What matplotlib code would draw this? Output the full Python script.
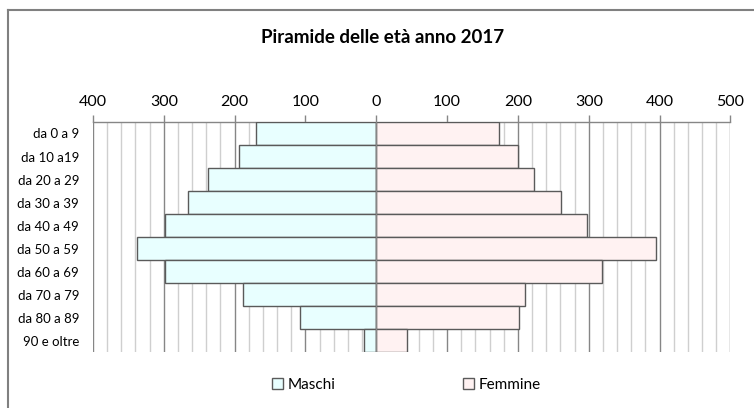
import numpy as np
import matplotlib
matplotlib.use("Agg")
import matplotlib.pyplot as plt
from matplotlib.lines import Line2D
from matplotlib.ticker import MultipleLocator, FuncFormatter

plt.rcParams['font.family'] = ['Lato', 'DejaVu Sans']

# data
categories = ['da 0 a 9', 'da 10 a19', 'da 20 a 29', 'da 30 a 39', 'da 40 a 49',
              'da 50 a 59', 'da 60 a 69', 'da 70 a 79', 'da 80 a 89', '90 e oltre']
maschi = [170, 194, 238, 266, 299, 338, 298, 188, 108, 18]
femmine = [173, 200, 222, 261, 298, 395, 318, 210, 201, 43]
series_labels = ['Maschi', 'Femmine']
title = 'Piramide delle età anno 2017'

fig = plt.figure(figsize=(7.54, 4.08), dpi=100)
ax = fig.add_axes([0.1233, 0.137, 0.8455, 0.564])

y = np.arange(len(categories))
ax.barh(y, -np.array(maschi), height=1.0, color='#E8FFFF', edgecolor='#5a5a5a',
        linewidth=1.0, label=series_labels[0], zorder=3)
ax.barh(y, femmine, height=1.0, color='#FFF2F2', edgecolor='#5a5a5a',
        linewidth=1.0, label=series_labels[1], zorder=3)

ax.set_xlim(-400, 500)
ax.set_ylim(len(categories) - 0.5, -0.5)

ax.xaxis.set_major_locator(MultipleLocator(100))
ax.xaxis.set_minor_locator(MultipleLocator(20))
ax.xaxis.set_major_formatter(FuncFormatter(lambda v, p: f"{abs(int(v))}"))
ax.xaxis.tick_top()
ax.tick_params(axis='x', which='major', length=5, width=1, color='#868686',
               labelsize=11.5, pad=4, labelcolor='black')
ax.tick_params(axis='x', which='minor', length=0)

ax.set_yticks(y)
ax.set_yticklabels(categories)
ax.tick_params(axis='y', length=0, labelsize=9.5, pad=10)

ax.grid(axis='x', which='major', color='#868686', linewidth=1.0, zorder=0)
ax.grid(axis='x', which='minor', color='#cfcfcf', linewidth=1.0, zorder=0)
ax.set_axisbelow(True)

for side in ['bottom', 'right', 'left']:
    ax.spines[side].set_visible(False)
ax.spines['top'].set_color('#868686')
ax.spines['top'].set_linewidth(1.0)
ax.axvline(0, color='#868686', linewidth=1.0, zorder=4)

fig.text(0.508, 0.909, title, ha='center', va='center', fontsize=13.5, fontweight='bold')

fig.legend(loc='center', bbox_to_anchor=(0.539, 0.056), ncol=2, frameon=False,
           fontsize=11, handlelength=0.75, handleheight=0.75, handletextpad=0.3,
           columnspacing=8.3)

# outer chart frame (top and left edges visible)
fig.add_artist(Line2D([0.0106, 1.0], [0.9755, 0.9755], color='#808080', linewidth=1.5,
                      transform=fig.transFigure))
fig.add_artist(Line2D([0.0106, 0.0106], [0.0, 0.9755], color='#808080', linewidth=1.5,
                      transform=fig.transFigure))

fig.savefig('out.png', dpi=100)
